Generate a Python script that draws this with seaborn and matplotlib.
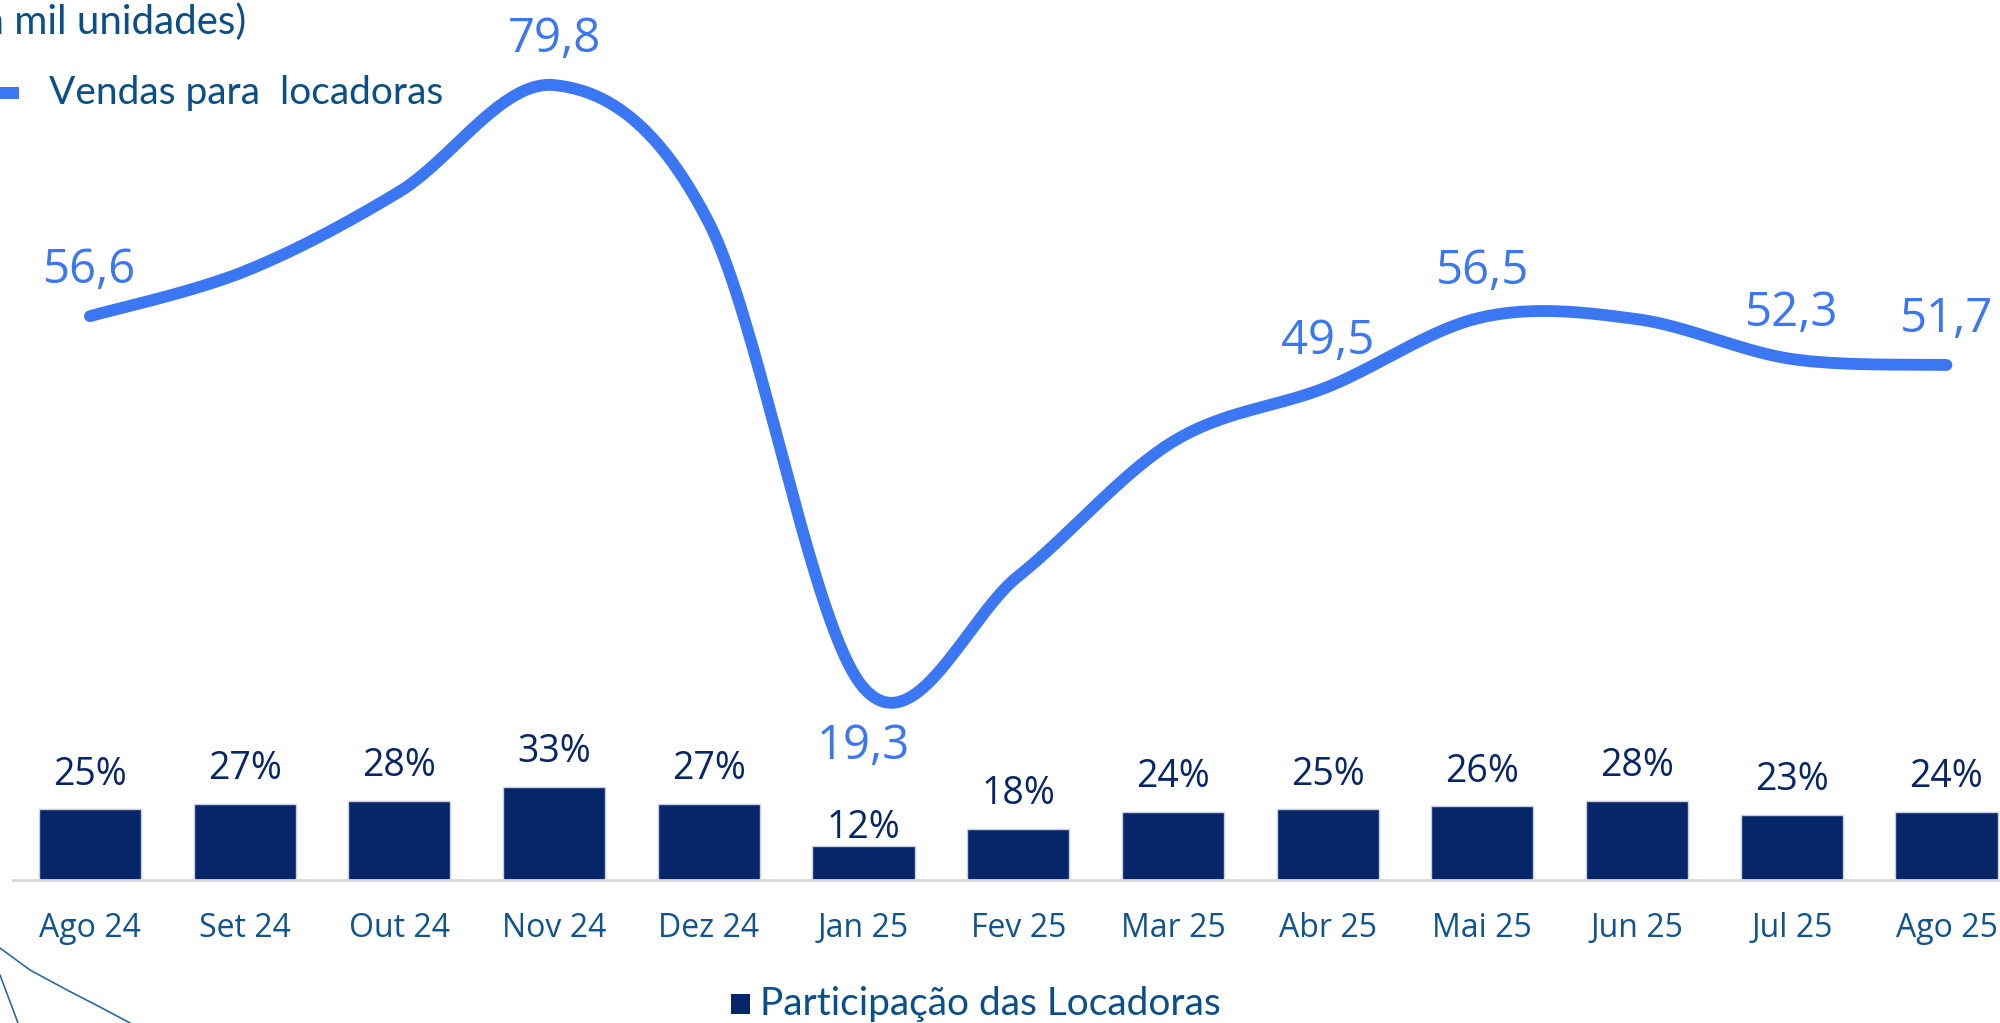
import matplotlib
matplotlib.use("Agg")
import matplotlib.pyplot as plt
from matplotlib.lines import Line2D
from matplotlib.patches import Rectangle
import numpy as np
import seaborn as sns

# dados
meses = ['Ago 24', 'Set 24', 'Out 24', 'Nov 24', 'Dez 24', 'Jan 25', 'Fev 25',
         'Mar 25', 'Abr 25', 'Mai 25', 'Jun 25', 'Jul 25', 'Ago 25']
participacao = [25, 27, 28, 33, 27, 12, 18, 24, 25, 26, 28, 23, 24]
vendas = [56.6, 61.1, 69.1, 79.8, 66.0, 19.3, 30.5, 44.0, 49.5, 56.5, 56.3, 52.3, 51.7]
# pontos com rótulo na linha (índice -> acima/abaixo)
rotulos_linha = {0: 'acima', 3: 'acima', 5: 'abaixo', 8: 'acima', 9: 'acima', 11: 'acima', 12: 'acima'}

cor_barra = '#072669'
cor_linha = '#3b76f3'
cor_texto = '#0b4f8a'
cor_tick = '#0f5391'

sns.set_theme(style='white')
plt.rcParams['font.family'] = ['Open Sans', 'DejaVu Sans']
estreita = ['Lato', 'DejaVu Sans']

fig = plt.figure(figsize=(20, 10.23), dpi=100)
ax = fig.add_axes([0.0063, 0.1398, 0.9937, 0.8602])

# barras - participação
sns.barplot(x=meses, y=participacao, color=cor_barra, saturation=1, width=0.66,
            edgecolor='#c8d0e0', linewidth=1, ax=ax)
ax.set_ylim(0, 311)
ax.set_xlim(-0.5, 12.346)
for i, v in enumerate(participacao):
    off = 13 if i == 5 else 25
    ax.annotate(f'{v}%', (i, v), xytext=(0, off), textcoords='offset points',
                ha='center', va='center', fontsize=27, color=cor_barra)

ax.set_yticks([])
ax.set_xlabel('')
ax.set_ylabel('')
ax.tick_params(axis='x', length=0, pad=23, labelsize=23, labelcolor=cor_tick)
for s in ['left', 'right', 'top']:
    ax.spines[s].set_visible(False)
ax.spines['bottom'].set_color('#d9d9d9')
ax.spines['bottom'].set_linewidth(2)

# linha suavizada (bezier tipo Excel)
ax2 = ax.twinx()
xp = np.arange(len(vendas), dtype=float)
yp = np.array(vendas)
pts = np.column_stack([xp, yp])
curva = []
t = np.linspace(0, 1, 40)
for i in range(len(pts) - 1):
    p0 = pts[i]
    p3 = pts[i + 1]
    pa = pts[i - 1] if i > 0 else pts[i]
    pb = pts[i + 2] if i + 2 < len(pts) else pts[i + 1]
    p1 = p0 + (p3 - pa) / 6
    p2 = p3 - (pb - p0) / 6
    seg = ((1 - t) ** 3)[:, None] * p0 + (3 * (1 - t) ** 2 * t)[:, None] * p1 \
        + (3 * (1 - t) * t ** 2)[:, None] * p2 + (t ** 3)[:, None] * p3
    curva.append(seg)
curva = np.vstack(curva)
sns.lineplot(x=curva[:, 0], y=curva[:, 1], sort=False, estimator=None, color=cor_linha,
             linewidth=8.5, solid_capstyle='round', ax=ax2, legend=False)
ax2.set_ylim(0, 88.34)
ax2.set_xlim(-0.5, 12.346)
ax2.set_yticks([])
ax2.set_ylabel('')
for s in ax2.spines.values():
    s.set_visible(False)

for i, pos in rotulos_linha.items():
    off = 33 if pos == 'acima' else -42
    ax2.annotate(f'{vendas[i]:.1f}'.replace('.', ','), (i, vendas[i]), xytext=(0, off),
                 textcoords='offset points', ha='center', va='center',
                 fontsize=34, color=cor_linha)

# título e legendas
fig.text(0.123, 0.978, '(em mil unidades)', ha='right', va='center', fontsize=29,
         color=cor_texto, family=estreita)
fig.add_artist(Rectangle((-0.01, 0.9032), 0.0195, 0.0118, transform=fig.transFigure,
                         color=cor_linha, lw=0))
fig.text(0.0243, 0.909, 'Vendas para  locadoras', ha='left', va='center', fontsize=28,
         color=cor_texto, family=estreita)
fig.add_artist(Rectangle((0.3655, 0.0088), 0.0095, 0.0196, transform=fig.transFigure,
                         color=cor_barra, lw=0))
fig.text(0.380, 0.0186, 'Participação das Locadoras', ha='left', va='center', fontsize=28,
         color=cor_texto, family=estreita)

# arcos decorativos no canto
cx = np.array([0, 30, 67, 100, 130]) / 2000
cy = 1 - np.array([948, 970, 990, 1007, 1023]) / 1023
fig.add_artist(Line2D(cx, cy, transform=fig.transFigure, color='#2e6a9e', lw=1.2))
fig.add_artist(Line2D([0, 0.009], [1 - 975 / 1023, 0], transform=fig.transFigure,
                      color='#2e6a9e', lw=1.2))

fig.savefig('out.png', dpi=100)
